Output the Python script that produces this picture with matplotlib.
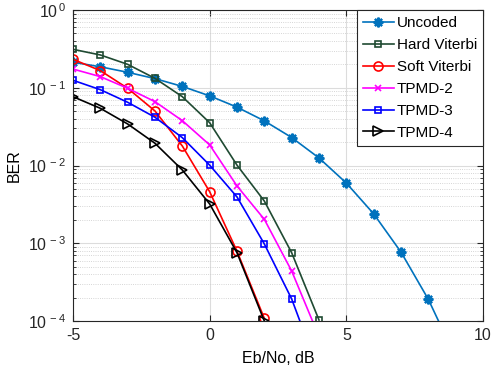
import matplotlib
matplotlib.use('Agg')
import matplotlib.pyplot as plt
from matplotlib.ticker import LogLocator, NullFormatter, FuncFormatter
import numpy as np

plt.rcParams['font.family'] = ['Liberation Sans', 'DejaVu Sans']
plt.rcParams['mathtext.default'] = 'regular'
plt.rcParams['axes.unicode_minus'] = False

# values
ebno_unc = [-5, -4, -3, -2, -1, 0, 1, 2, 3, 4, 5, 6, 7, 8, 9]
ber_unc = [0.213, 0.186, 0.158, 0.131, 0.104, 0.0786, 0.0563, 0.0375, 0.0229,
           0.0125, 0.00595, 0.00239, 7.7e-4, 1.9e-4, 3.4e-5]

ebno_hard = [-5, -4, -3, -2, -1, 0, 1, 2, 3, 4]
ber_hard = [0.312, 0.264, 0.200, 0.132, 0.0767, 0.0355, 0.0101, 0.00349, 7.55e-4, 1.03e-4]

ebno_soft = [-5, -4, -3, -2, -1, 0, 1, 2]
ber_soft = [0.232, 0.166, 0.0984, 0.0502, 0.0178, 0.0046, 7.9e-4, 1.08e-4]

ebno_t2 = [-5, -4, -3, -2, -1, 0, 1, 2, 3, 4]
ber_t2 = [0.174, 0.139, 0.0984, 0.0662, 0.0377, 0.0184, 0.00545, 0.00203, 4.4e-4, 6.3e-5]

ebno_t3 = [-5, -4, -3, -2, -1, 0, 1, 2, 3, 4]
ber_t3 = [0.1247, 0.0944, 0.065, 0.0417, 0.0228, 0.0101, 0.00394, 9.8e-4, 1.92e-4, 2.2e-5]

ebno_t4 = [-5, -4, -3, -2, -1, 0, 1, 2]
ber_t4 = [0.0767, 0.0544, 0.0342, 0.0193, 0.00875, 0.0032, 7.55e-4, 1.0e-4]

fig = plt.figure(figsize=(4.91, 3.77), dpi=100)
ax = fig.add_axes([0.1487, 0.1485, 0.835, 0.825])

asterisk = (8, 2, 0)
ax.semilogy(ebno_unc, ber_unc, '-', marker=asterisk, color='#0072BD', lw=1.2, ms=7, mew=1.6, label='Uncoded')
ax.semilogy(ebno_hard, ber_hard, '-s', color='#1f4a32', lw=1.2, ms=5, mfc='none', mew=1.2, label='Hard Viterbi')
ax.semilogy(ebno_soft, ber_soft, '-o', color='red', lw=1.2, ms=6.5, mfc='none', mew=1.2, label='Soft Viterbi')
ax.semilogy(ebno_t2, ber_t2, '-x', color='magenta', lw=1.2, ms=5, mew=1.2, label='TPMD-2')
ax.semilogy(ebno_t3, ber_t3, '-s', color='blue', lw=1.2, ms=5, mfc='none', mew=1.2, label='TPMD-3')
ax.semilogy(ebno_t4, ber_t4, '->', color='black', lw=1.2, ms=6.5, mfc='none', mew=1.2, label='TPMD-4')

ax.set_xlim(-5, 10)
ax.set_ylim(1e-4, 1)
ax.set_xticks([-5, 0, 5, 10])
ax.yaxis.set_major_locator(LogLocator(base=10, numticks=10))
ax.yaxis.set_major_formatter(FuncFormatter(lambda v, p: r'$10^{\,%d}$' % round(np.log10(v))))
ax.yaxis.set_minor_locator(LogLocator(base=10, subs=range(2, 10), numticks=10))
ax.yaxis.set_minor_formatter(NullFormatter())

ax.grid(True, which='major', color='#dcdcdc', lw=0.8, ls='-')
ax.grid(True, which='minor', axis='y', color='#c8c8c8', lw=0.6, ls=':')
ax.set_axisbelow(True)

for s in ax.spines.values():
    s.set_color('#262626')
    s.set_linewidth(0.8)
ax.tick_params(which='both', direction='in', top=True, right=True, colors='#262626', labelsize=11.5)
ax.tick_params(which='major', length=4, pad=5)
ax.tick_params(which='minor', length=2)

ax.set_xlabel('Eb/No, dB', fontsize=11.5, labelpad=6)
ax.set_ylabel('BER', fontsize=11.5, labelpad=4)

leg = ax.legend(loc='upper right', fontsize=11, fancybox=False, framealpha=1,
                edgecolor='#262626', borderaxespad=0.0, handlelength=2.0,
                handletextpad=0.2, labelspacing=0.52, borderpad=0.4)
leg.get_frame().set_linewidth(0.8)

fig.savefig('out.png', dpi=100)
